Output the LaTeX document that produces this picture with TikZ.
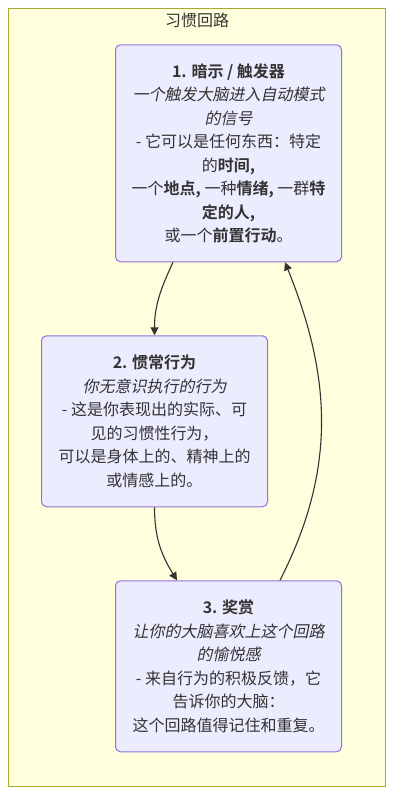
\documentclass[tikz,border=0pt]{standalone}
\usepackage{fontspec}
\setmainfont{Noto Sans CJK SC}[
  BoldFont={Noto Sans CJK SC Bold},
  ItalicFont={Noto Sans CJK SC},
  ItalicFeatures={FakeSlant=0.2}]
\usetikzlibrary{positioning, arrows.meta}
\definecolor{clusterfill}{HTML}{FFFFDE}
\definecolor{clusterdraw}{HTML}{AAAA33}
\definecolor{boxfill}{HTML}{ECECFF}
\definecolor{boxdraw}{HTML}{9370DB}
\definecolor{inktext}{HTML}{333333}

\begin{document}
\begin{tikzpicture}[x=1pt, y=-1pt, >={Triangle[length=8pt, width=8pt]}]
        \tikzset{
            % Define style for the three steps
            habitbox/.style={
                    rectangle,
                    rounded corners=5pt,
                    draw=boxdraw, fill=boxfill, line width=1pt,
                    minimum width=226pt,
                    text=inktext,
                    font=\fontsize{16}{23.5}\selectfont,
                    align=center},
            % Define arrow style
            loopline/.style={
                    ->,
                    draw=inktext,
                    line width=1.1pt},
        }
        \useasboundingbox (0,0) rectangle (401,811);
        % Draw the cluster
        \draw[fill=clusterfill, draw=clusterdraw, line width=1pt] (8,8) rectangle (385.5,786.5);
        \node[text=inktext, font=\fontsize{16}{20}\selectfont] (title) at (197,20) {习惯回路};

        % Draw the steps
        \node[habitbox, minimum height=217pt] (cue) at (228.5,153.25) {%
            {\bfseries 1. 暗示 / 触发器}\\
            {\itshape 一个触发大脑进入自动模式}\\
            {\itshape 的信号}\\
            - 它可以是任何东西：特定\\
            的{\bfseries 时间,}\\
            一个{\bfseries 地点,} 一种{\bfseries 情绪,} 一群{\bfseries 特}\\
            {\bfseries 定的人,}\\
            或一个{\bfseries 前置行动}。};
        \node[habitbox, minimum height=171pt, below=73pt of cue, xshift=-74pt] (routine) {%
            {\bfseries 2. 惯常行为}\\
            {\itshape 你无意识执行的行为}\\
            - 这是你表现出的实际、可\\
            见的习惯性行为，\\
            可以是身体上的、精神上的\\
            或情感上的。};
        \node[habitbox, minimum height=171pt, below=73pt of routine, xshift=74pt] (reward) {%
            {\bfseries 3. 奖赏}\\
            {\itshape 让你的大脑喜欢上这个回路}\\
            {\itshape 的愉悦感}\\
            - 来自行为的积极反馈，它\\
            告诉你的大脑：\\
            这个回路值得记住和重复。};

        % Connect the steps with arrows
        \draw[loopline] ([xshift=-55.5pt]cue.south) to[out=-115, in=90] (routine.north);
        \draw[loopline] (routine.south) to[out=-90, in=122] ([xshift=-51.5pt]reward.north);
        \draw[loopline] ([xshift=51.5pt]reward.north) to[out=63, in=-68] ([xshift=56.5pt]cue.south);

    \end{tikzpicture}
\end{document}
